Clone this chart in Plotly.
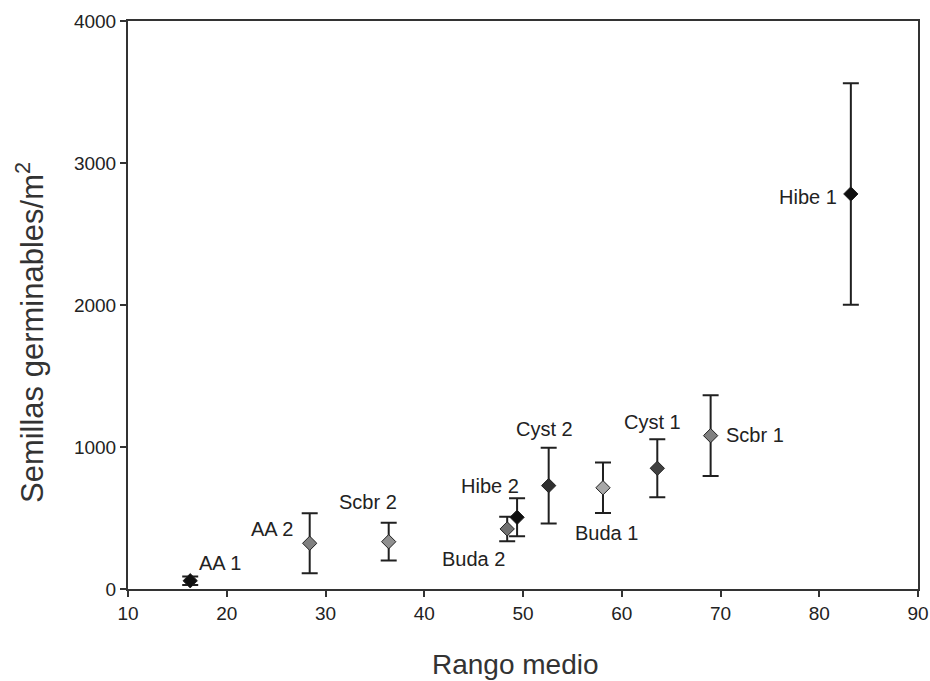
import plotly.graph_objects as go

names = ["AA 1", "AA 2", "Scbr 2", "Buda 2", "Hibe 2", "Cyst 2", "Buda 1", "Cyst 1", "Scbr 1", "Hibe 1"]
rango = [16.3, 28.4, 36.4, 48.4, 49.4, 52.6, 58.1, 63.6, 69.0, 83.2]
semillas = [58, 322, 333, 423, 505, 728, 713, 850, 1080, 2782]
err = [30, 211, 133, 86, 134, 266, 178, 204, 284, 780]
colors = ["#101010", "#808080", "#909090", "#707070", "#101010", "#303030", "#a8a8a8", "#404040", "#808080", "#101010"]
label_x = [19.3, 24.55, 34.3, 45.0, 46.7, 52.2, 58.5, 63.1, 73.5, 78.9]
label_y = [183, 423, 615, 209, 727, 1125, 392, 1178, 1085, 2761]
x_title = "Rango medio"
y_title = "Semillas germinables/m<sup>2</sup>"

FONT = "Liberation Sans, Arial"

fig = go.Figure()
for i in range(len(names)):
    fig.add_trace(go.Scatter(
        x=[rango[i]], y=[semillas[i]], mode="markers",
        marker=dict(symbol="diamond", size=11, color=colors[i],
                    line=dict(color="#202020", width=1)),
        error_y=dict(type="data", array=[err[i]], visible=True,
                     color="#202020", thickness=2, width=8),
        showlegend=False,
    ))

for i in range(len(names)):
    fig.add_annotation(x=label_x[i], y=label_y[i], text=names[i], showarrow=False,
                       font=dict(family=FONT, size=20, color="#222222"))

fig.add_annotation(xref="paper", yref="paper", x=0.49, y=-0.1338, text=x_title,
                   showarrow=False, xanchor="center", yanchor="middle",
                   font=dict(family=FONT, size=28, color="#333333"))
fig.add_annotation(xref="paper", yref="paper", x=-0.124, y=0.4507, text=y_title,
                   showarrow=False, xanchor="center", yanchor="middle", textangle=-90,
                   font=dict(family=FONT, size=31, color="#333333"))

axis_common = dict(showline=True, linecolor="#333333", linewidth=2, mirror=True,
                   ticks="outside", ticklen=6, tickwidth=1.5, tickcolor="#333333",
                   showgrid=False, zeroline=False, automargin=False,
                   tickfont=dict(family=FONT, size=19, color="#222222"))

fig.update_xaxes(range=[10, 90], tickvals=[10, 20, 30, 40, 50, 60, 70, 80, 90],
                 **axis_common)
fig.update_yaxes(range=[0, 4000], tickvals=[0, 1000, 2000, 3000, 4000],
                 **axis_common)

fig.update_layout(width=930, height=681, margin=dict(l=128, r=12, t=21, b=92),
                  paper_bgcolor="white", plot_bgcolor="white")

fig.write_html("out.html")
